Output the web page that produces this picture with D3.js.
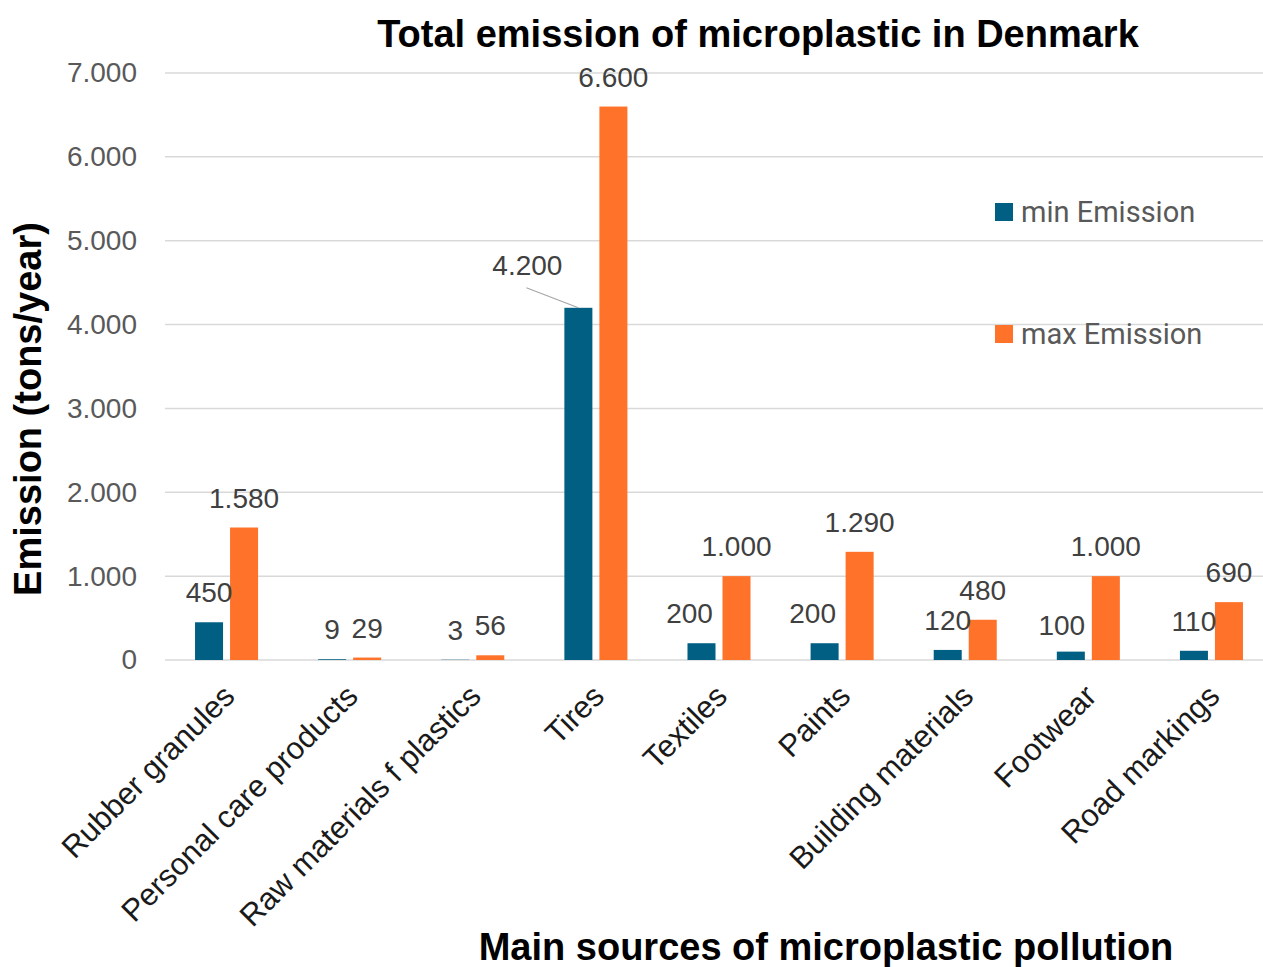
<!DOCTYPE html>
<html><head><meta charset="utf-8">
<script src="https://cdn.jsdelivr.net/npm/d3@7"></script>
<style>body{margin:0;background:#fff}svg{display:block}</style>
</head><body>
<svg id="c" width="1263" height="967"></svg>
<script>
const categories = ["Rubber granules","Personal care products","Raw materials f plastics","Tires","Textiles","Paints","Building materials","Footwear","Road markings"];
const seriesNames = ["min Emission","max Emission"];
const minEmission = [450, 9, 3, 4200, 200, 200, 120, 100, 110];
const maxEmission = [1580, 29, 56, 6600, 1000, 1290, 480, 1000, 690];
const yTicks = [0,1000,2000,3000,4000,5000,6000,7000];
// manual label nudges (as in the original chart)
const minLabelDx = [0,0,0,-51,-12,-12,0,-9,0];
const minLabelDy = [0,0,0,-13,0,0,0,3,0];

const colors = ["#005f83","#ff7229"];
const svg = d3.select("#c");
const plot = {left:165, right:1273, top:73, bottom:660};

const x0 = d3.scaleBand().domain(categories).range([plot.left, plot.right]).paddingInner(0.488).paddingOuter(0.244);
const x1 = d3.scaleBand().domain(seriesNames).range([0, x0.bandwidth()]).paddingInner(0.2);
const y = d3.scaleLinear().domain([0,7000]).range([plot.bottom, plot.top]);
const fmt = v => d3.format(",")(v).replace(/,/g,".");

// gridlines
svg.append("g").selectAll("line").data(yTicks).join("line")
  .attr("x1", plot.left).attr("x2", plot.right)
  .attr("y1", d=>y(d)).attr("y2", d=>y(d))
  .attr("stroke","#d9d9d9").attr("stroke-width",1.5);

// y axis labels
const yAxis = d3.axisLeft(y).tickValues(yTicks).tickFormat(fmt).tickSize(0).tickPadding(28);
const ya = svg.append("g").attr("transform",`translate(${plot.left},0)`).call(yAxis);
ya.select(".domain").remove();
ya.selectAll("text").attr("font-family","Liberation Sans, Arial, sans-serif").attr("font-size",28).attr("fill","#595959");

// bars
const data = categories.map((c,i)=>({cat:c, vals:[minEmission[i], maxEmission[i]], i}));
const g = svg.append("g").selectAll("g").data(data).join("g")
  .attr("transform", d=>`translate(${x0(d.cat)},0)`);
g.selectAll("rect").data(d=>d.vals.map((v,k)=>({v,k,i:d.i}))).join("rect")
  .attr("x", d=>x1(seriesNames[d.k])).attr("width", x1.bandwidth())
  .attr("y", d=>y(d.v)).attr("height", d=>y(0)-y(d.v))
  .attr("fill", d=>colors[d.k]);

// leader line for Tires min label
{
  const i = 3;
  const bx = x0(categories[i]) + x1(seriesNames[0]) + x1.bandwidth()/2;
  const by = y(minEmission[i]);
  svg.append("line").attr("x1", bx - 52).attr("y1", by - 20).attr("x2", bx).attr("y2", by)
    .attr("stroke","#a6a6a6").attr("stroke-width",1.2);
}

// data labels
g.selectAll("text.lbl").data(d=>d.vals.map((v,k)=>({v,k,i:d.i}))).join("text")
  .attr("class","lbl")
  .attr("x", d=>x1(seriesNames[d.k]) + x1.bandwidth()/2 + (d.k===0?minLabelDx[d.i]:0))
  .attr("y", d=>y(d.v) - 20 + (d.k===0?minLabelDy[d.i]:0))
  .attr("text-anchor","middle")
  .attr("font-family","Liberation Sans, Arial, sans-serif").attr("font-size",28).attr("fill","#404040")
  .text(d=>fmt(d.v));

// x axis labels
const xa = svg.append("g").attr("transform",`translate(0,${plot.bottom})`);
xa.selectAll("text").data(categories).join("text")
  .attr("transform", d=>`translate(${x0(d)+x0.bandwidth()/2+10},${38}) rotate(-45)`)
  .attr("text-anchor","end")
  .attr("font-family","Liberation Sans, Arial, sans-serif").attr("font-size",31).attr("fill","#1a1a1a")
  .text(d=>d);

// titles
svg.append("text").attr("x",758).attr("y",47).attr("text-anchor","middle")
  .attr("font-family","Liberation Sans, Arial, sans-serif").attr("font-weight","bold").attr("font-size",38).attr("fill","#000")
  .text("Total emission of microplastic in Denmark");
svg.append("text").attr("x",826).attr("y",960).attr("text-anchor","middle")
  .attr("font-family","Liberation Sans, Arial, sans-serif").attr("font-weight","bold").attr("font-size",38).attr("fill","#000")
  .text("Main sources of microplastic pollution");
svg.append("text").attr("transform","translate(41,409) rotate(-90)").attr("text-anchor","middle")
  .attr("font-family","Liberation Sans, Arial, sans-serif").attr("font-weight","bold").attr("font-size",38).attr("fill","#000")
  .text("Emission (tons/year)");

// legend
const lg = svg.append("g").selectAll("g").data(seriesNames).join("g")
  .attr("transform",(d,i)=>`translate(995,${203 + i*122})`);
lg.append("rect").attr("width",18).attr("height",18).attr("fill",(d,i)=>colors[i]);
lg.append("text").attr("x",26).attr("y",19)
  .attr("font-family","Roboto, sans-serif").attr("font-size",29).attr("fill","#595959").text(d=>d);
</script>
</body></html>
